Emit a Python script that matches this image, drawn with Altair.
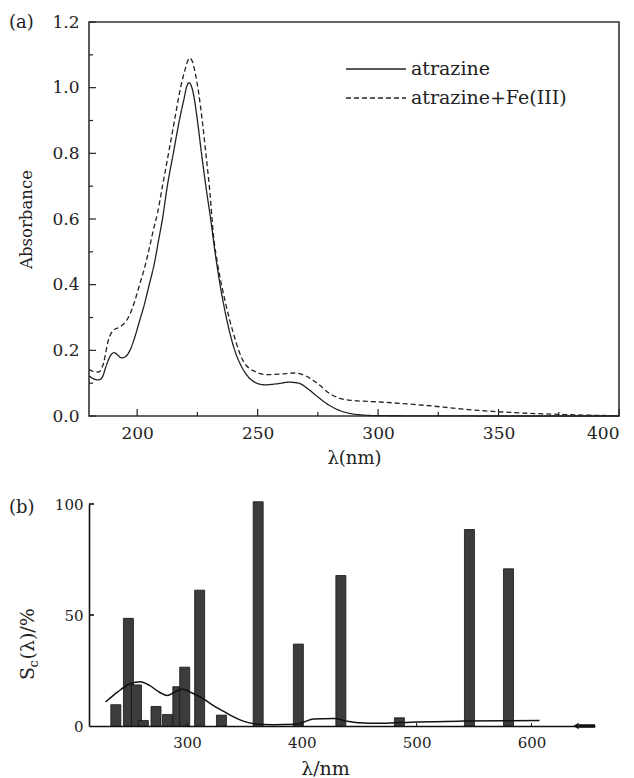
import altair as alt
import pandas as pd

# ---------------- Panel (a) data ----------------
series_names = ["atrazine", "atrazine+Fe(III)"]

wl_solid = [180, 182, 184, 185.5, 187, 189, 190.5, 192, 193.5, 195, 197, 199, 201, 203, 205, 207, 209,
            210.5, 212.5, 215, 217.5, 219.5, 220.5, 221.5, 222.5, 223.5, 225, 226.7, 228.5, 230.5, 232.3,
            234.4, 237, 240.5, 243, 246, 249, 253, 258, 263, 267, 271, 275, 279, 283, 287, 292, 300,
            320, 350, 400]
abs_solid = [0.122, 0.113, 0.110, 0.118, 0.150, 0.185, 0.193, 0.185, 0.177, 0.180, 0.200, 0.240, 0.290,
             0.340, 0.400, 0.460, 0.540, 0.600, 0.700, 0.800, 0.900, 0.968, 1.002, 1.015, 1.005, 0.975,
             0.900, 0.800, 0.700, 0.600, 0.500, 0.400, 0.300, 0.200, 0.155, 0.120, 0.102, 0.095, 0.098,
             0.103, 0.100, 0.082, 0.058, 0.036, 0.020, 0.010, 0.004, 0.001, 0.0005, 0.0, 0.0]

wl_fe = [180, 182, 184, 186, 188, 190, 192.5, 195, 197, 199, 201, 203, 205, 206.5, 208.5, 210.5, 213,
         215.5, 218, 220, 221, 222, 223, 224, 225.5, 227, 228.5, 230.2, 231.6, 233.7, 236.5,
         240, 244.2, 249, 254, 260, 265, 270, 275, 280, 285, 290, 300, 310, 320, 330, 340, 350, 360,
         375, 390, 400]
abs_fe = [0.142, 0.135, 0.134, 0.160, 0.230, 0.260, 0.270, 0.285, 0.310, 0.350, 0.400, 0.450, 0.510,
          0.560, 0.620, 0.700, 0.800, 0.900, 1.000, 1.058, 1.082, 1.090, 1.078, 1.048, 0.985, 0.900,
          0.800, 0.680, 0.555, 0.450, 0.350, 0.250, 0.165, 0.135, 0.126, 0.128, 0.131, 0.122, 0.098,
          0.068, 0.052, 0.047, 0.043, 0.038, 0.032, 0.025, 0.018, 0.013, 0.009, 0.005, 0.002, 0.001]

x_major_a = [200, 250, 300, 350, 400]
x_minor_a = [225, 275, 325, 375]
y_major_a = [0.0, 0.2, 0.4, 0.6, 0.8, 1.0, 1.2]
y_minor_a = [0.1, 0.3, 0.5, 0.7, 0.9, 1.1]

# ---------------- Panel (b) data ----------------
bar_wl = [238, 249, 256, 262, 273, 283, 292, 298, 311, 330, 362, 397, 434, 485, 546, 580]
bar_sc = [9.6, 48.5, 18.5, 2.5, 8.8, 5.2, 17.7, 26.5, 61.2, 4.9, 101, 36.9, 67.8, 3.7, 88.5, 70.8]

curve_wl = [229, 240, 249, 259, 267, 276, 283, 289, 296, 304, 314, 322, 332, 341, 349, 359, 375,
            395, 402, 410, 428, 439, 449, 470, 500, 540, 580, 607]
curve_sc = [10.8, 15.5, 18.7, 19.9, 18.4, 15.2, 13.7, 15.2, 16.5, 15.0, 12.3, 9.5, 6.6, 4.0, 2.2,
            1.0, 0.6, 0.8, 1.8, 3.2, 3.4, 2.2, 1.5, 1.2, 1.8, 2.2, 2.4, 2.5]

x_ticks_b = [300, 400, 500, 600]
y_ticks_b = [0, 50, 100]

panel_labels = ["(a)", "(b)"]

FONT = "DejaVu Serif"
INK = "#222222"

# ---------------- Panel (a) ----------------
WA, HA = 530, 394
xa = alt.Scale(domain=[180, 400], nice=False, zero=False)
ya = alt.Scale(domain=[0, 1.2], nice=False)

ax_xa = alt.Axis(
    values=x_major_a, tickSize=0, domain=False, grid=False, format="d",
    labelFont=FONT, labelFontSize=17, labelColor=INK, labelPadding=9,
    title="λ(nm)", titleFont=FONT, titleFontSize=18, titleFontWeight="normal", titleColor=INK,
    titleX=WA / 2, titleY=42, titleBaseline="middle", titleAlign="center")
ax_ya = alt.Axis(
    values=y_major_a, tickSize=0, domain=False, grid=False, format=".1f",
    labelFont=FONT, labelFontSize=17, labelColor=INK, labelPadding=10,
    title="Absorbance", titleFont=FONT, titleFontSize=16.5, titleFontWeight="normal", titleColor=INK,
    titleX=-63, titleY=HA / 2, titleBaseline="middle", titleAlign="center", titleAngle=270)

df_a = pd.concat([
    pd.DataFrame({"wl": wl_solid, "A": abs_solid, "series": series_names[0]}),
    pd.DataFrame({"wl": wl_fe, "A": abs_fe, "series": series_names[1]}),
])

curves = alt.Chart(df_a).mark_line(interpolate="monotone", color=INK, strokeWidth=1.3).encode(
    x=alt.X("wl:Q", scale=xa, axis=ax_xa),
    y=alt.Y("A:Q", scale=ya, axis=ax_ya),
    strokeDash=alt.StrokeDash("series:N", scale=alt.Scale(domain=series_names, range=[[1, 0], [5, 3]]),
                              legend=None),
    detail="series:N",
)

def xticks(vals, length):
    return alt.Chart(pd.DataFrame({"v": vals})).mark_rule(color=INK, strokeWidth=1.2).encode(
        x=alt.X("v:Q", scale=xa, axis=ax_xa), y=alt.value(HA), y2=alt.value(HA - length))

def yticks(vals, length):
    return alt.Chart(pd.DataFrame({"v": vals})).mark_rule(color=INK, strokeWidth=1.2).encode(
        y=alt.Y("v:Q", scale=ya, axis=ax_ya), x=alt.value(0), x2=alt.value(length))

leg_df0 = pd.DataFrame({"t": [series_names[0]]})
leg_df1 = pd.DataFrame({"t": [series_names[1]]})
leg_line0 = alt.Chart(leg_df0).mark_rule(color=INK, strokeWidth=1.3).encode(
    x=alt.value(257), x2=alt.value(317), y=alt.value(47))
leg_line1 = alt.Chart(leg_df1).mark_rule(color=INK, strokeWidth=1.3, strokeDash=[5, 3]).encode(
    x=alt.value(257), x2=alt.value(317), y=alt.value(76))
leg_txt0 = alt.Chart(leg_df0).mark_text(font=FONT, fontSize=19, align="left", baseline="middle",
                                        color=INK).encode(text="t:N", x=alt.value(322), y=alt.value(47))
leg_txt1 = alt.Chart(leg_df1).mark_text(font=FONT, fontSize=19, align="left", baseline="middle",
                                        color=INK).encode(text="t:N", x=alt.value(322), y=alt.value(76))

lab_a = alt.Chart(pd.DataFrame({"t": [panel_labels[0]]})).mark_text(
    font=FONT, fontSize=18, align="left", baseline="middle", color=INK).encode(
    text="t:N", x=alt.value(-80), y=alt.value(1))

panel_a = alt.layer(
    curves, xticks(x_major_a, 7), xticks(x_minor_a, 4), yticks(y_major_a, 7), yticks(y_minor_a, 4),
    leg_line0, leg_line1, leg_txt0, leg_txt1, lab_a
).properties(width=WA, height=HA, view=alt.ViewBackground(stroke="#333333", strokeWidth=1.6))

# ---------------- Panel (b) ----------------
WB, HB = 506, 222
xb = alt.Scale(domain=[219, 651], nice=False, zero=False)
yb = alt.Scale(domain=[0, 100], nice=False)

ax_xb = alt.Axis(
    values=x_ticks_b, tickSize=0, domain=True, domainColor="#111111", domainWidth=1.6,
    grid=False, format="d", labelFont=FONT, labelFontSize=15, labelColor=INK, labelPadding=9,
    title="λ/nm", titleFont=FONT, titleFontSize=19, titleFontWeight="normal", titleColor=INK,
    titleX=236, titleY=42, titleBaseline="middle", titleAlign="center")
ax_yb = alt.Axis(
    values=y_ticks_b, tickSize=0, domain=True, domainColor="#111111", domainWidth=1.6,
    grid=False, labelFont=FONT, labelFontSize=15, labelColor=INK, labelPadding=6, title=None)

bars = alt.Chart(pd.DataFrame({"wl": bar_wl, "S": bar_sc})).mark_bar(
    size=10, color="#3c3c3c", stroke="#141414", strokeWidth=0.8).encode(
    x=alt.X("wl:Q", scale=xb, axis=ax_xb),
    y=alt.Y("S:Q", scale=yb, axis=ax_yb),
)

curve_b = alt.Chart(pd.DataFrame({"wl": curve_wl, "S": curve_sc})).mark_line(
    interpolate="monotone", color="#111111", strokeWidth=1.5).encode(
    x=alt.X("wl:Q", scale=xb, axis=ax_xb), y=alt.Y("S:Q", scale=yb, axis=ax_yb))

yt_b = alt.Chart(pd.DataFrame({"v": [50, 100]})).mark_rule(color="#111111", strokeWidth=1.6).encode(
    y=alt.Y("v:Q", scale=yb, axis=ax_yb), x=alt.value(0), x2=alt.value(5))
xt_b = alt.Chart(pd.DataFrame({"v": x_ticks_b})).mark_rule(color="#111111", strokeWidth=1.0).encode(
    x=alt.X("v:Q", scale=xb, axis=ax_xb), y=alt.value(HB), y2=alt.value(HB - 3))

arrow_df = pd.DataFrame({"t": ["arrow"]})
arrow = alt.Chart(arrow_df).mark_rule(color="#111111", strokeWidth=3.5).encode(
    x=alt.value(490), x2=alt.value(506), y=alt.value(HB))
arrow_head = alt.Chart(arrow_df).mark_point(shape="triangle-left", filled=True, color="#111111",
                                            size=40, opacity=1).encode(x=alt.value(487), y=alt.value(HB))

lab_b = alt.Chart(pd.DataFrame({"t": [panel_labels[1]]})).mark_text(
    font=FONT, fontSize=18, align="left", baseline="middle", color=INK).encode(
    text="t:N", x=alt.value(-80), y=alt.value(4))

ytitle_parts = ["S", "c", "(λ)/%"]
yt_S = alt.Chart(pd.DataFrame({"t": [ytitle_parts[0]]})).mark_text(
    font=FONT, fontSize=19, align="left", baseline="alphabetic", angle=270, color=INK).encode(
    text="t:N", x=alt.value(-55), y=alt.value(176))
yt_c = alt.Chart(pd.DataFrame({"t": [ytitle_parts[1]]})).mark_text(
    font=FONT, fontSize=13, align="left", baseline="alphabetic", angle=270, color=INK).encode(
    text="t:N", x=alt.value(-51), y=alt.value(163.5))
yt_rest = alt.Chart(pd.DataFrame({"t": [ytitle_parts[2]]})).mark_text(
    font=FONT, fontSize=19, align="left", baseline="alphabetic", angle=270, color=INK).encode(
    text="t:N", x=alt.value(-55), y=alt.value(155.5))

panel_b = alt.layer(
    bars, curve_b, yt_b, xt_b, arrow, arrow_head, lab_b, yt_S, yt_c, yt_rest
).properties(width=WB, height=HB, view=alt.ViewBackground(stroke=None))

chart = alt.vconcat(panel_a, panel_b, spacing=88, bounds="flush").properties(
    padding={"left": 0, "top": 4, "right": 0, "bottom": 0}
).configure_view(stroke=None).configure(background="white")

chart.save("out.html", embed_options={"renderer": "svg", "actions": False})
